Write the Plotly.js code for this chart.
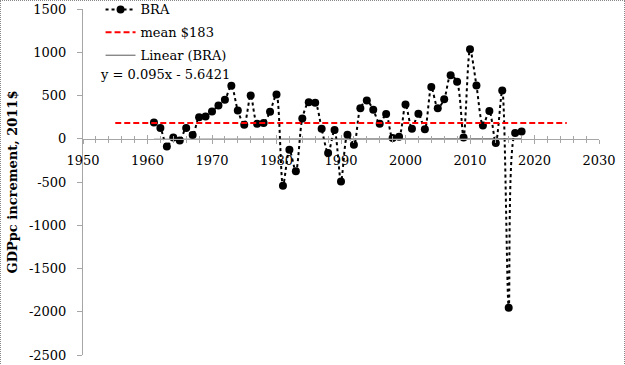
<!DOCTYPE html>
<html><head><meta charset="utf-8">
<script src="https://cdn.plot.ly/plotly-3.0.1.min.js"></script>
<style>html,body{margin:0;padding:0;background:#fff}#wrap{position:relative;width:625px;height:365px;overflow:hidden}
#frame{position:absolute;left:0;top:0;width:623px;height:370px;border:1px dotted #888;pointer-events:none}</style>
</head><body><div id="wrap"><div id="chart" style="width:625px;height:365px"></div><div id="frame"></div></div>
<script>
const years = [1961,1962,1963,1964,1965,1966,1967,1968,1969,1970,1971,1972,1973,1974,1975,
1976,1977,1978,1979,1980,1981,1982,1983,1984,1985,1986,1987,1988,1989,1990,1991,
1992,1993,1994,1995,1996,1997,1998,1999,2000,2001,2002,2003,2004,2005,2006,
2007,2008,2009,2010,2011,2012,2013,2014,2015,2016,2017,2018];
const increments = [188,123,-89,15,-19,123,43,250,258,316,385,450,612,327,162,
500,173,181,312,512,-543,-127,-377,235,423,416,115,-166,100,-493,46,
-69,354,443,335,173,285,8,23,396,115,289,111,597,354,458,
735,658,15,1035,616,154,320,-50,558,-1955,66,84];
const meanYears = [1955, 2025];
const meanValues = [183, 183];
const trendYears = [1961, 2018];
const trendValues = [-5.55, -0.13];
const xTicks = [1950,1960,1970,1980,1990,2000,2010,2020,2030];
const yTicks = [-2500,-2000,-1500,-1000,-500,0,500,1000,1500];

const F = 'DejaVu Serif, serif';
const traces = [
  {x: years, y: increments, name: 'BRA', legendgroup: 'a', mode: 'lines+markers', type: 'scatter',
   line: {color: '#000', width: 2, dash: 'dot', shape: 'spline', smoothing: 0.8},
   marker: {color: '#000', size: 8}},
  {x: meanYears, y: meanValues, name: 'mean $183', legendgroup: 'b', mode: 'lines', type: 'scatter',
   line: {color: '#ff0000', width: 2, dash: '6px,3px'}},
  {x: trendYears, y: trendValues, name: 'Linear (BRA)', legendgroup: 'c', mode: 'lines', type: 'scatter',
   line: {color: '#595959', width: 1}},
  {x: [1950], y: [null], xaxis: 'x2', showlegend: false, hoverinfo: 'skip', type: 'scatter'}
];
const layout = {
  width: 625, height: 365,
  margin: {l: 83, r: 26, t: 9, b: 10, autoexpand: false},
  paper_bgcolor: '#fff', plot_bgcolor: '#fff',
  font: {family: F, size: 13, color: '#000'},
  showlegend: true,
  legend: {x: 0.034, y: 1.042, xanchor: 'left', yanchor: 'top', bgcolor: 'rgba(0,0,0,0)',
           font: {family: F, size: 13}, tracegroupgap: 3, itemwidth: 30},
  xaxis: {range: [1950, 2030], tickvals: xTicks, ticktext: xTicks.map(String),
          showgrid: false, zeroline: false, showline: true, linecolor: '#a6a6a6', linewidth: 1,
          anchor: 'free', position: 0.625, ticks: 'outside', ticklen: 4, tickcolor: '#a6a6a6',
          ticklabelstandoff: 6,
          minor: {dtick: 2, tick0: 1950, ticks: 'outside', ticklen: 3, tickcolor: '#a6a6a6', showgrid: false},
          tickfont: {family: F, size: 13}},
  xaxis2: {range: [1950, 2030], overlaying: 'x', anchor: 'free', position: 0.625,
           showgrid: false, zeroline: false, showline: false, showticklabels: false,
           tickvals: xTicks, ticks: 'inside', ticklen: 4, tickcolor: '#a6a6a6',
           minor: {dtick: 2, tick0: 1950, ticks: 'inside', ticklen: 3, tickcolor: '#a6a6a6', showgrid: false}},
  yaxis: {range: [-2500, 1500], tickvals: yTicks, ticktext: yTicks.map(String),
          showgrid: false, zeroline: false, showline: true, linecolor: '#a6a6a6', linewidth: 1,
          ticks: 'outside', ticklen: 5, tickcolor: '#a6a6a6', ticklabelstandoff: 8,
          tickfont: {family: F, size: 13},
          title: {text: '<b>GDPpc increment, 2011$</b>', font: {family: F, size: 13}, standoff: 8}},
  annotations: [{text: 'y = 0.095x - 5.6421', xref: 'paper', yref: 'paper',
                 x: (98 - 83) / 516, y: (355 - 75) / 346, xanchor: 'left', yanchor: 'middle',
                 showarrow: false, font: {family: F, size: 13}}]
};
Plotly.newPlot('chart', traces, layout, {displayModeBar: false, staticPlot: true});
</script></body></html>
